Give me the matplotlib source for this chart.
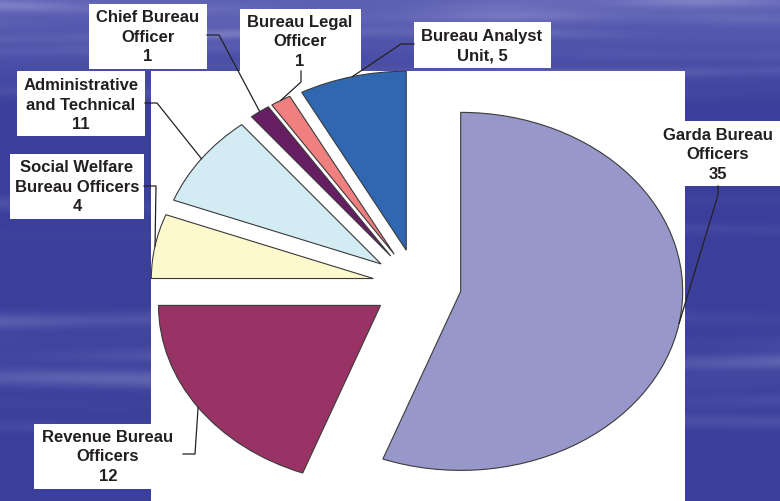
import numpy as np
import matplotlib
matplotlib.use("Agg")
from matplotlib import pyplot as plt
from matplotlib.patches import Rectangle

W, H = 780, 502

# slice shares (%) as drawn in the picture, clockwise from 12 o'clock
names = ["Garda Bureau\nOfficers", "Revenue Bureau\nOfficers", "Social Welfare\nBureau Officers",
         "Administrative\nand Technical", "Chief Bureau\nOfficer", "Bureau Legal\nOfficer",
         "Bureau Analyst\nUnit"]
counts = ["35", "12", "4", "11", "1", "1", "5"]
shares = [55.7, 19.3, 5.8, 8.4, 1.5, 1.5, 7.8]
colors = ["#9797CA", "#993366", "#FDF9CD", "#D3ECF3", "#661E63", "#F08080", "#2F67B1"]

# label layout in pixels: text centre, box (x0, y0, x1, y1), leader from box -> elbow
text_pos = [(718, 155), (108, 457), (77, 187), (81, 105), (148, 37), (300, 42), (482, 46)]
boxes = [(659, 122, 780, 187), (34, 425, 183, 490), (10, 155, 144, 220), (17, 72, 145, 137),
         (89, 5, 207, 70), (240, 10, 361, 72), (414, 23, 551, 69)]
leader_start = [(718, 187), (183, 455), (144, 187), (145, 104), (207, 36), (301, 72), (414, 45)]
leader_elbow = [(718, 196), (195, 455), (156, 187), (157, 104), (219, 36), (301, 83), (401, 45)]

fig = plt.figure(figsize=(W / 100, H / 100), dpi=100)

# sky background
yy, xx = np.mgrid[0:H, 0:W].astype(float)
base = np.array([0x3B, 0x3F, 0x9B]) / 255.0
top = np.array([0x5E, 0x60, 0xB4]) / 255.0
t = np.clip(1 - yy / 110.0, 0, 1)[..., None]
img = base * (1 - t) + top * t
streak = np.zeros((H, W))
bands = [(6, 6, 0.3), (20, 7, 0.25), (36, 5, 0.3), (52, 6, 0.2), (70, 5, 0.22),
         (95, 6, 0.12), (205, 7, 0.18), (232, 6, 0.14), (318, 8, 0.35), (340, 9, 0.3),
         (360, 8, 0.35), (382, 9, 0.28), (405, 8, 0.2), (425, 7, 0.12)]
for k, (yc, th, s) in enumerate(bands):
    mod = 0.55 + 0.45 * np.cos(xx / (110.0 + 23 * k) + k * 2.3)
    mod *= 0.7 + 0.3 * np.cos(xx / (37.0 + 7 * k) + k)
    streak += s * mod * np.exp(-((yy - yc - 4 * np.sin(xx / 150.0 + k)) / th) ** 2)
streak = np.clip(streak, 0, 0.55)[..., None]
light = np.array([0.80, 0.80, 0.95])
img = img * (1 - streak) + light * streak
bg = fig.add_axes([0, 0, 1, 1])
bg.imshow(img, extent=(0, W, H, 0), aspect="auto", interpolation="bilinear")
bg.set_xlim(0, W)
bg.set_ylim(H, 0)
bg.axis("off")
bg.add_patch(Rectangle((151, 72), 685 - 151, H - 72, facecolor="white", edgecolor="none"))
for (x0, y0, x1, y1) in boxes:
    bg.add_patch(Rectangle((x0, y0), x1 - x0, y1 - y0, facecolor="white", edgecolor="none"))

# pie (stretched horizontally like the original)
cx, cy, rx, ry = 417, 286, 222, 179
ax = fig.add_axes([0, 0, 1, 1])
ax.patch.set_alpha(0)
wedges, _ = ax.pie(shares, colors=colors, startangle=90, counterclock=False,
                   explode=[0.2] * len(shares),
                   wedgeprops=dict(edgecolor="#3A3A3A", linewidth=0.8))
ax.set_aspect("auto")
ax.set_xlim(-cx / rx, (W - cx) / rx)
ax.set_ylim(-(H - cy) / ry, cy / ry)
ax.axis("off")


def px(p):
    return ((p[0] - cx) / rx, (cy - p[1]) / ry)


for i, w in enumerate(wedges):
    mid = np.radians((w.theta1 + w.theta2) / 2)
    anchor = (w.center[0] + np.cos(mid), w.center[1] + np.sin(mid))
    a = px(leader_start[i])
    b = px(leader_elbow[i])
    ax.plot([a[0], b[0], anchor[0]], [a[1], b[1], anchor[1]], color="#222222", lw=0.9)
    label = names[i] + ("\n" + counts[i] if i != 6 else ", " + counts[i])
    fig.text(text_pos[i][0] / W, 1 - text_pos[i][1] / H, label, ha="center", va="center",
             fontsize=12, fontweight="bold", family="Liberation Sans", color="#231F20",
             linespacing=1.38)

fig.savefig("out.png", dpi=100)
